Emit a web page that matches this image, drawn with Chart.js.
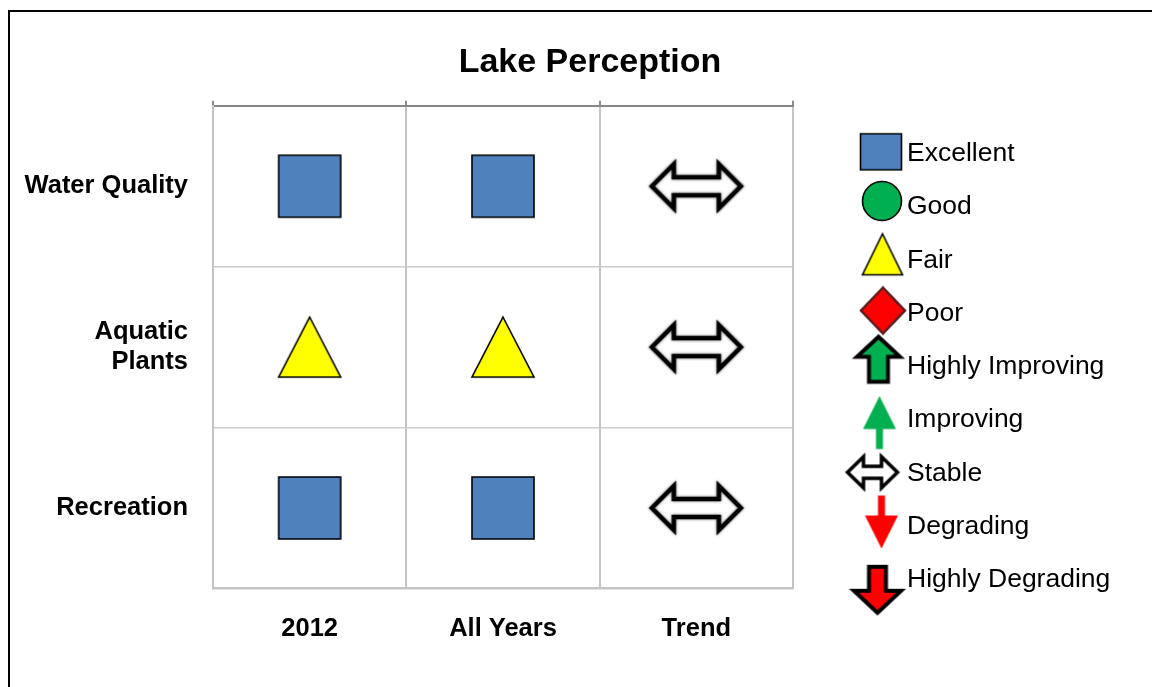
<!DOCTYPE html>
<html>
<head>
<meta charset="utf-8">
<title>Lake Perception</title>
<script src="https://cdn.jsdelivr.net/npm/chart.js@4.4.1/dist/chart.umd.min.js"></script>
<style>
  html, body { margin: 0; padding: 0; background: #fff; overflow: hidden; }
  #frame { position: absolute; left: 8px; top: 10px; width: 1160px; height: 720px;
           border-left: 2px solid #000; border-top: 2px solid #000; }
  #chart { display: block; }
</style>
</head>
<body>
<div id="frame"><canvas id="chart" width="1147" height="687"></canvas></div>
<script>
// columns and rows of the grid
const columns = ['2012', 'All Years', 'Trend'];
const rows = ['Water Quality', 'Aquatic Plants', 'Recreation'];
const rowTickLabels = ['Water Quality', ['Aquatic', 'Plants'], 'Recreation'];

// rating for each row (same order as rows)
const rating2012 = ['Excellent', 'Fair', 'Excellent'];
const ratingAllYears = ['Excellent', 'Fair', 'Excellent'];
const trend = ['Stable', 'Stable', 'Stable'];

const legendLabels = ['Excellent', 'Good', 'Fair', 'Poor', 'Highly Improving', 'Improving', 'Stable', 'Degrading', 'Highly Degrading'];

const BLUE = '#4F81BD', GREEN = '#00B050', YELLOW = '#FFFF00', RED = '#FF0000';

Chart.defaults.font.family = "'Liberation Sans', Arial, sans-serif";
Chart.defaults.color = '#000';

function poly(g, pts, fill, stroke, lw) {
    g.beginPath();
    pts.forEach(function(p, i) { i ? g.lineTo(p[0], p[1]) : g.moveTo(p[0], p[1]); });
    g.closePath();
    g.fillStyle = fill;
    g.fill();
    if (stroke) {
        g.lineJoin = 'miter';
        g.lineWidth = lw;
        g.strokeStyle = stroke;
        g.stroke();
    }
}

function doubleArrow(w, h, head, shaft) {
    return [[-w / 2, 0], [-w / 2 + head, -h / 2], [-w / 2 + head, -shaft], [w / 2 - head, -shaft], [w / 2 - head, -h / 2],
            [w / 2, 0], [w / 2 - head, h / 2], [w / 2 - head, shaft], [-w / 2 + head, shaft], [-w / 2 + head, h / 2]];
}

// dir 1 = up, -1 = down
function arrow(w, h, head, shaft, dir) {
    const pts = [[0, -h / 2], [w / 2, -h / 2 + head], [shaft / 2, -h / 2 + head], [shaft / 2, h / 2],
                 [-shaft / 2, h / 2], [-shaft / 2, -h / 2 + head], [-w / 2, -h / 2 + head]];
    return pts.map(function(p) { return [p[0], p[1] * dir]; });
}

function drawSymbol(g, name, big) {
    const k = big ? 1.5 : 1;
    switch (name) {
        case 'Excellent': {
            const w = big ? 62 : 41, h = big ? 62 : 36;
            poly(g, [[-w / 2, -h / 2], [w / 2, -h / 2], [w / 2, h / 2], [-w / 2, h / 2]], BLUE, '#000', 1.6);
            break;
        }
        case 'Good':
            g.beginPath();
            g.arc(0, 0, big ? 30 : 19.5, 0, Math.PI * 2);
            g.fillStyle = GREEN; g.fill();
            g.lineWidth = 1.6; g.strokeStyle = '#000'; g.stroke();
            break;
        case 'Fair': {
            const w = big ? 62 : 40, h = big ? 60 : 41;
            poly(g, [[0, -h / 2], [w / 2, h / 2], [-w / 2, h / 2]], YELLOW, '#000', 1.6);
            break;
        }
        case 'Poor':
            poly(g, [[0, -23 * k], [22 * k, 0], [0, 23 * k], [-22 * k, 0]], RED, '#5A1E1E', 2.5);
            break;
        case 'Highly Improving':
            poly(g, arrow(43 * k, 45 * k, 20 * k, 19 * k, 1), GREEN, '#000', 4);
            break;
        case 'Improving':
            poly(g, arrow(33 * k, 53 * k, 33 * k, 7 * k, 1), GREEN);
            break;
        case 'Stable':
            if (big) {
                g.shadowColor = 'rgba(0,0,0,0.55)';
                g.shadowBlur = 3;
                poly(g, doubleArrow(89, 44, 22, 9), '#fff', '#000', 4.5);
            } else {
                poly(g, doubleArrow(50, 31, 16, 6), '#fff', '#000', 3.5);
            }
            break;
        case 'Degrading':
            poly(g, arrow(33 * k, 53 * k, 33 * k, 7 * k, -1), RED);
            break;
        case 'Highly Degrading':
            poly(g, arrow(47 * k, 46 * k, 22 * k, 17 * k, -1), RED, '#000', 4);
            break;
    }
}

function makeIcon(name, big) {
    const c = document.createElement('canvas');
    c.width = big ? 120 : 80;
    c.height = big ? 100 : 80;
    const g = c.getContext('2d');
    g.translate(c.width / 2, c.height / 2);
    drawSymbol(g, name, big);
    return c;
}

function pointsFor(name) {
    const pts = [];
    rows.forEach(function(row, i) {
        if (rating2012[i] === name) pts.push({x: columns[0], y: row});
        if (ratingAllYears[i] === name) pts.push({x: columns[1], y: row});
        if (trend[i] === name) pts.push({x: columns[2], y: row});
    });
    return pts;
}

// legend placement, relative to the chart area's right/top edge
const legendOffsets = {
    'Excellent': [88, -2], 'Good': [89, -6], 'Fair': [89.5, -6], 'Poor': [90, -3],
    'Highly Improving': [85.5, -7.5], 'Improving': [86.5, 2.5], 'Stable': [79.5, -1],
    'Degrading': [88.5, -4.5], 'Highly Degrading': [84.5, 10]
};
const legendIcons = {};
legendLabels.forEach(function(n) { legendIcons[n] = makeIcon(n, false); });

const sideLegend = {
    id: 'sideLegend',
    afterDraw: function(chart) {
        const ctx = chart.ctx, area = chart.chartArea;
        ctx.save();
        ctx.font = "26.5px 'Liberation Sans', Arial, sans-serif";
        ctx.fillStyle = '#000';
        ctx.textBaseline = 'middle';
        ctx.textAlign = 'left';
        legendLabels.forEach(function(name, i) {
            const y = area.top + 48 + i * 53.25;
            const icon = legendIcons[name];
            const off = legendOffsets[name];
            ctx.drawImage(icon, area.right + off[0] - icon.width / 2, y + off[1] - icon.height / 2);
            ctx.fillText(name, area.right + 114, y);
        });
        ctx.restore();
    }
};

const ctx = document.getElementById('chart').getContext('2d');
new Chart(ctx, {
    type: 'line',
    data: {
        datasets: legendLabels.map(function(name) {
            return {
                label: name,
                data: pointsFor(name),
                showLine: false,
                pointStyle: makeIcon(name, true),
                pointRadius: 10,
                pointHoverRadius: 10
            };
        })
    },
    options: {
        responsive: false,
        animation: false,
        events: [],
        layout: { padding: { left: 13, right: 0, top: 0, bottom: 30 } },
        scales: {
            x: {
                type: 'category',
                labels: columns,
                position: 'bottom',
                offset: true,
                grid: { offset: true, color: '#C4C4C4', lineWidth: 2, drawTicks: false },
                border: { color: '#C4C4C4', width: 2 },
                ticks: { padding: 25, font: { size: 25.5, weight: 'bold' }, color: '#000' }
            },
            x2: {
                type: 'category',
                labels: columns,
                position: 'top',
                offset: true,
                grid: { offset: true, drawOnChartArea: false, drawTicks: true, tickLength: 5, color: '#8C8C8C', lineWidth: 2 },
                border: { color: '#868686', width: 2 },
                ticks: { display: false }
            },
            y: {
                type: 'category',
                labels: rows,
                position: 'left',
                offset: true,
                grid: { offset: true, color: '#CCCCCC', lineWidth: 1.5, drawTicks: false },
                border: { color: '#C4C4C4', width: 2 },
                ticks: {
                    padding: 25,
                    crossAlign: 'near',
                    font: { size: 25.5, weight: 'bold' },
                    color: '#000',
                    callback: function(value) { return rowTickLabels[value]; }
                },
                afterFit: function(scale) { scale.width = 190; }
            },
            // room on the right for the legend
            legendSpace: {
                type: 'linear',
                position: 'right',
                grid: { display: false },
                border: { display: false },
                ticks: { display: false },
                afterFit: function(scale) { scale.width = 364; }
            }
        },
        plugins: {
            title: {
                display: true,
                text: 'Lake Perception',
                color: '#000',
                font: { size: 34, weight: 'bold' },
                padding: { top: 30, bottom: 18 }
            },
            legend: { display: false },
            tooltip: { enabled: false }
        }
    },
    plugins: [sideLegend]
});
</script>
</body>
</html>
